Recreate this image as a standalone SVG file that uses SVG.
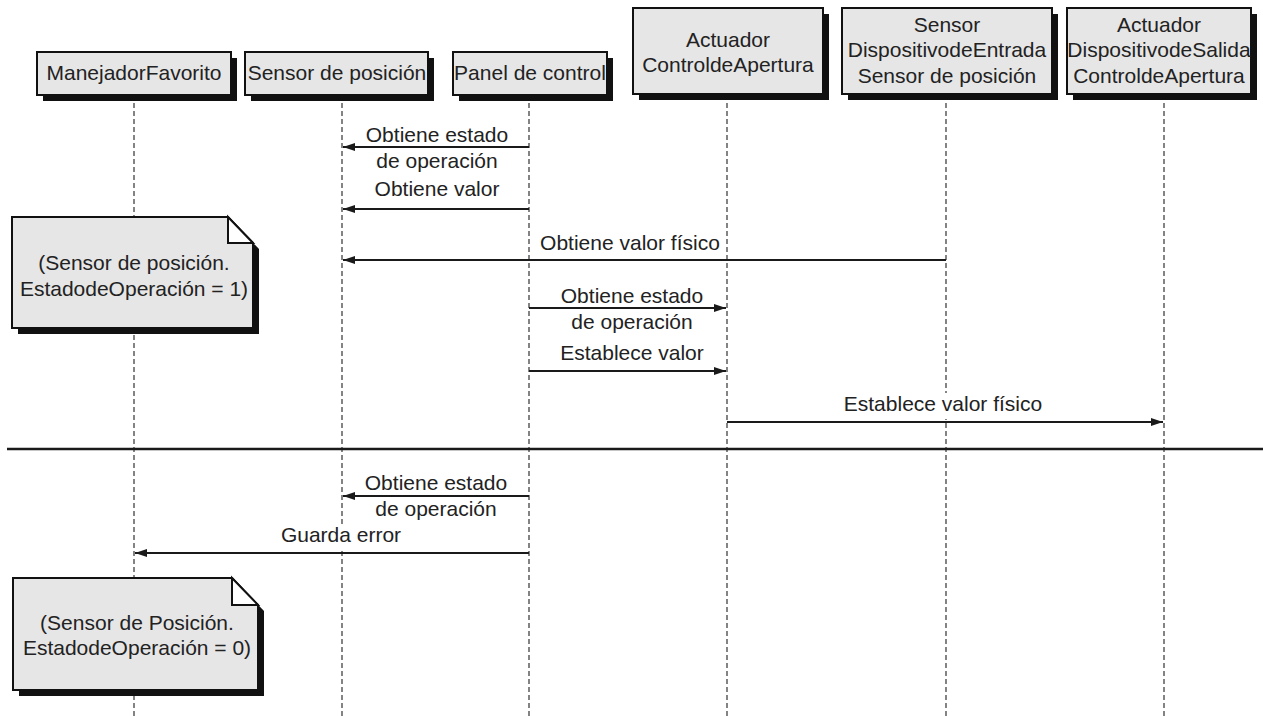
<svg xmlns="http://www.w3.org/2000/svg" width="1263" height="716" viewBox="0 0 1263 716">
<style>
.box{fill:#e6e6e6;stroke:#111;stroke-width:2}
.shadow{fill:#111}
.t{font-family:"Liberation Sans",Arial,sans-serif;font-size:21px;fill:#222;text-anchor:middle}
.life{stroke:#333;stroke-width:1.2;stroke-dasharray:5,3;fill:none}
.msg{stroke:#1a1a1a;stroke-width:2;fill:none}
.bg{fill:#fff}
.fold{fill:#fff;stroke:#111;stroke-width:2;stroke-linejoin:miter}
</style>
<defs>
<marker id="ah" markerUnits="userSpaceOnUse" markerWidth="13" markerHeight="9" refX="12" refY="4" orient="auto">
<path d="M0,0 L12,4 L0,8 z" fill="#1a1a1a"/>
</marker>
</defs>
<rect width="1263" height="716" fill="#fff"/>

<g id="lifelines">
<line class="life" x1="134" y1="95" x2="134" y2="716"/>
<line class="life" x1="342" y1="95" x2="342" y2="716"/>
<line class="life" x1="529" y1="95" x2="529" y2="716"/>
<line class="life" x1="727" y1="95" x2="727" y2="716"/>
<line class="life" x1="946" y1="95" x2="946" y2="716"/>
<line class="life" x1="1164" y1="95" x2="1164" y2="716"/>
</g>

<g id="node-manejador">
<rect class="shadow" x="43" y="58" width="194" height="43"/>
<rect class="box" x="37" y="52" width="194" height="43"/>
<text class="t" x="134" y="80">ManejadorFavorito</text>
</g>
<g id="node-sensor-posicion">
<rect class="shadow" x="251" y="58" width="183" height="43"/>
<rect class="box" x="245" y="52" width="183" height="43"/>
<text class="t" x="337" y="80">Sensor de posición</text>
</g>
<g id="node-panel">
<rect class="shadow" x="459" y="58" width="154" height="43"/>
<rect class="box" x="453" y="52" width="154" height="43"/>
<text class="t" x="530" y="80">Panel de control</text>
</g>
<g id="node-actuador-control">
<rect class="shadow" x="639" y="14" width="190" height="86"/>
<rect class="box" x="633" y="8" width="190" height="86"/>
<text class="t" x="728" y="47">Actuador</text>
<text class="t" x="728" y="72">ControldeApertura</text>
</g>
<g id="node-sensor-dispositivo">
<rect class="shadow" x="848" y="14" width="210" height="86"/>
<rect class="box" x="842" y="8" width="210" height="86"/>
<text class="t" x="947" y="32">Sensor</text>
<text class="t" x="947" y="57">DispositivodeEntrada</text>
<text class="t" x="947" y="83">Sensor de posición</text>
</g>
<g id="node-actuador-dispositivo">
<rect class="shadow" x="1073" y="14" width="184" height="86"/>
<rect class="box" x="1067" y="8" width="184" height="86"/>
<text class="t" x="1159" y="32">Actuador</text>
<text class="t" x="1159" y="57">DispositivodeSalida</text>
<text class="t" x="1159" y="83">ControldeApertura</text>
</g>

<g id="connectors">
<line class="msg" x1="529" y1="147" x2="343" y2="147" marker-end="url(#ah)"/>
<text class="t" x="437" y="142">Obtiene estado</text>
<text class="t" x="437" y="168">de operación</text>

<line class="msg" x1="529" y1="209" x2="343" y2="209" marker-end="url(#ah)"/>
<text class="t" x="437" y="196">Obtiene valor</text>

<line class="msg" x1="946" y1="260" x2="343" y2="260" marker-end="url(#ah)"/>
<text class="t" x="630" y="250">Obtiene valor físico</text>

<line class="msg" x1="529" y1="308" x2="726" y2="308" marker-end="url(#ah)"/>
<text class="t" x="632" y="303">Obtiene estado</text>
<text class="t" x="632" y="329">de operación</text>

<line class="msg" x1="529" y1="371" x2="726" y2="371" marker-end="url(#ah)"/>
<text class="t" x="632" y="360">Establece valor</text>

<rect class="bg" x="840" y="393" width="206" height="26"/>
<line class="msg" x1="727" y1="422" x2="1163" y2="422" marker-end="url(#ah)"/>
<text class="t" x="943" y="411">Establece valor físico</text>

<line x1="7" y1="449" x2="1263" y2="449" stroke="#1a1a1a" stroke-width="2.5"/>

<line class="msg" x1="529" y1="496" x2="343" y2="496" marker-end="url(#ah)"/>
<text class="t" x="436" y="490">Obtiene estado</text>
<text class="t" x="436" y="516">de operación</text>

<rect class="bg" x="275" y="524" width="134" height="24"/>
<line class="msg" x1="529" y1="553" x2="135" y2="553" marker-end="url(#ah)"/>
<text class="t" x="341" y="542">Guarda error</text>
</g>

<g id="note-1">
<polygon class="shadow" points="18,223 234,223 259,249 259,334 18,334"/>
<polygon class="box" points="12,217 228,217 253,243 253,328 12,328"/>
<polygon class="fold" points="228,217 253,243 228,243"/>
<text class="t" x="134" y="270">(Sensor de posición.</text>
<text class="t" x="134" y="296">EstadodeOperación = 1)</text>
</g>

<g id="note-2">
<polygon class="shadow" points="19,584 238,584 264,611 264,696 19,696"/>
<polygon class="box" points="13,578 232,578 258,605 258,690 13,690"/>
<polygon class="fold" points="232,578 258,605 232,605"/>
<text class="t" x="137" y="630">(Sensor de Posición.</text>
<text class="t" x="137" y="655">EstadodeOperación = 0)</text>
</g>
</svg>
